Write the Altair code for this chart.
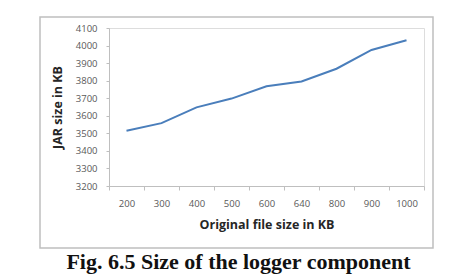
import altair as alt
import pandas as pd

file_sizes = ["200", "300", "400", "500", "600", "640", "800", "900", "1000"]
jar_sizes = [3515, 3558, 3648, 3698, 3768, 3795, 3868, 3975, 4030]

df = pd.DataFrame({"orig": file_sizes, "jar": jar_sizes})

AXIS_GREY = "#bfbfbf"
LABEL_GREY = "#595959"

line = alt.Chart(df).mark_line(color="#4a7ebb", strokeWidth=2).encode(
    x=alt.X(
        "orig:N",
        sort=file_sizes,
        bandPosition=0.5,
        scale=alt.Scale(type="band", paddingInner=0, paddingOuter=0),
        axis=alt.Axis(
            title="Original file size in KB",
            labelAngle=0,
            tickBand="extent",
            tickSize=4,
            labelPadding=8,
            titlePadding=11,
            domainColor=AXIS_GREY,
            tickColor=AXIS_GREY,
            labelColor=LABEL_GREY,
            labelFont="Open Sans",
            labelFontSize=9.5,
            titleFont="Open Sans",
            titleFontSize=12.5,
            titleFontWeight="bold",
            titleColor="#262626",
            grid=False,
        ),
    ),
    y=alt.Y(
        "jar:Q",
        scale=alt.Scale(domain=[3200, 4100], nice=False, zero=False),
        axis=alt.Axis(
            title="JAR size in KB",
            values=list(range(3200, 4101, 100)),
            format="d",
            tickSize=3,
            labelPadding=9,
            titlePadding=11,
            domainColor=AXIS_GREY,
            tickColor=AXIS_GREY,
            labelColor=LABEL_GREY,
            labelFont="Open Sans",
            labelFontSize=9.5,
            titleFont="Open Sans",
            titleFontSize=12.5,
            titleFontWeight="bold",
            titleColor="#262626",
            grid=False,
        ),
    ),
)

frame = alt.Chart(pd.DataFrame({"a": [0]})).mark_rect(
    fill=None, stroke=AXIS_GREY, strokeWidth=1.5
).encode(
    x=alt.value(-69), x2=alt.value(324), y=alt.value(-11), y2=alt.value(220)
)

chart = alt.layer(frame, line).properties(
    width=315,
    height=158,
    padding={"left": 109, "top": 28, "right": 52, "bottom": 94},
    autosize=alt.AutoSizeParams(type="none"),
    title=alt.TitleParams(
        "Fig. 6.5 Size of the logger component",
        orient="bottom",
        anchor="middle",
        frame="group",
        font="Liberation Serif",
        fontSize=22,
        fontWeight="bold",
        color="#111111",
        offset=3,
        dx=-28,
    ),
).configure_view(stroke=None).configure(background="white")

chart.save("out.html", embed_options={"renderer": "svg", "actions": False})
